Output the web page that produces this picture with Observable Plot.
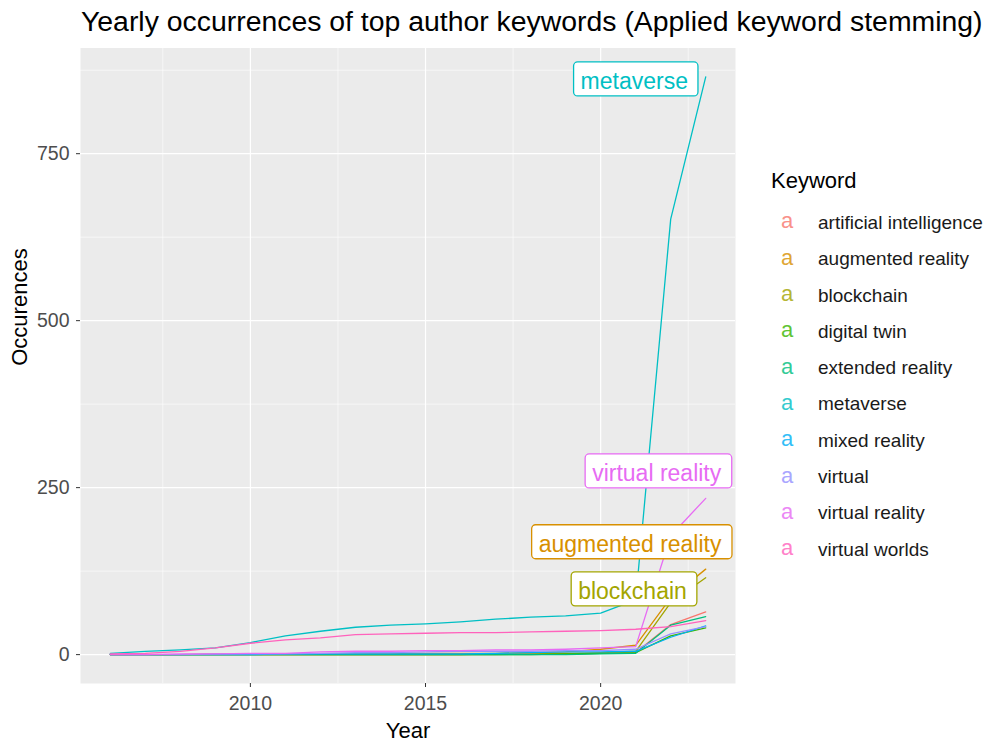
<!DOCTYPE html>
<html>
<head>
<meta charset="utf-8">
<script src="https://cdn.jsdelivr.net/npm/d3@7"></script>
<script src="https://cdn.jsdelivr.net/npm/@observablehq/plot@0.6"></script>
<style>
  html, body { margin: 0; padding: 0; background: white; }
  #wrap { position: relative; width: 991px; height: 745px; font-family: "Liberation Sans", Arial, sans-serif; }
  #title { height: 46px; position: relative; }
  #title span { position: absolute; left: 81px; top: 7px; font-size: 28.4px; line-height: 1; color: #000; white-space: nowrap; }
  #legend { position: absolute; left: 0; top: 0; }
  .lg { position: absolute; line-height: 1; white-space: nowrap; }
</style>
</head>
<body>
<div id="wrap">
  <div id="title"><span>Yearly occurrences of top author keywords (Applied keyword stemming)</span></div>
  <div id="chart"></div>
  <div id="legend"></div>
</div>
<script>
// ---- data ----
const years = [2006, 2007, 2008, 2009, 2010, 2011, 2012, 2013, 2014, 2015, 2016, 2017, 2018, 2019, 2020, 2021, 2022, 2023];
const keywords = ["artificial intelligence", "augmented reality", "blockchain", "digital twin", "extended reality", "metaverse", "mixed reality", "virtual", "virtual reality", "virtual worlds"];
const palette = ["#F8766D", "#D89000", "#A3A500", "#39B600", "#00BF7D", "#00BFC4", "#00B0F6", "#9590FF", "#E76BF3", "#FF62BC"];

const artificialIntelligence = [0, 0, 0, 0, 0, 0, 0, 0, 0, 0, 0, 0, 1, 1, 2, 3, 45, 64];
const augmentedReality       = [0, 0, 0, 1, 1, 1, 1, 1, 2, 2, 2, 2, 3, 4, 8, 14, 85, 128];
const blockchain             = [0, 0, 0, 0, 0, 0, 0, 0, 0, 0, 0, 1, 1, 2, 3, 5, 78, 115];
const digitalTwin            = [0, 0, 0, 0, 0, 0, 0, 0, 0, 0, 0, 0, 0, 1, 2, 3, 28, 40];
const extendedReality        = [0, 0, 0, 0, 0, 0, 0, 0, 0, 0, 0, 0, 0, 0, 1, 2, 44, 57];
const metaverse              = [2, 5, 7, 10, 18, 28, 35, 41, 44, 46, 49, 53, 56, 58, 62, 82, 652, 865];
const mixedReality           = [0, 0, 0, 0, 0, 1, 1, 1, 1, 1, 1, 2, 3, 4, 4, 5, 26, 43];
const virtualKw              = [0, 0, 0, 1, 1, 1, 2, 3, 3, 4, 5, 5, 5, 6, 6, 8, 31, 42];
const virtualReality         = [0, 0, 1, 1, 2, 2, 4, 5, 5, 6, 6, 7, 7, 8, 10, 12, 178, 234];
const virtualWorlds          = [1, 2, 5, 10, 17, 22, 25, 30, 31, 32, 33, 33, 34, 35, 36, 38, 42, 51];

const seriesValues = [artificialIntelligence, augmentedReality, blockchain, digitalTwin, extendedReality, metaverse, mixedReality, virtualKw, virtualReality, virtualWorlds];

// repelled label anchors (data units)
const labelKeywords = ["metaverse", "virtual reality", "augmented reality", "blockchain"];
const labelYears    = [2020.96, 2021.6, 2020.84, 2020.91];
const labelValues   = [858, 271, 165, 94.5];

// axis ticks
const xTicks = [2010, 2015, 2020];
const xMinor = [2007.5, 2012.5, 2017.5, 2022.5];
const yTicks = [0, 250, 500, 750];
const yMinor = [125, 375, 625, 875];

// ---- build tables ----
const rows = keywords.flatMap((k, i) => years.map((yr, j) => ({keyword: k, year: yr, value: seriesValues[i][j]})));
const labels = labelKeywords.map((k, i) => ({keyword: k, year: labelYears[i], value: labelValues[i]}));

// ggplot-like expansion (5%)
const xMin = d3.min(years), xMax = d3.max(years);
const yMin = d3.min(rows, d => d.value), yMax = d3.max(rows, d => d.value);
const xPad = (xMax - xMin) * 0.05, yPad = (yMax - yMin) * 0.05;

const chart = Plot.plot({
  width: 991,
  height: 699,
  marginLeft: 80,
  marginRight: 256,
  marginTop: 1.5,
  marginBottom: 62,
  style: {fontFamily: "'Liberation Sans', Arial, sans-serif", background: "white", overflow: "visible"},
  x: {domain: [xMin - xPad, xMax + xPad]},
  y: {domain: [yMin - yPad, yMax + yPad]},
  color: {domain: keywords, range: palette},
  marks: [
    Plot.frame({fill: "#EBEBEB", stroke: "none"}),
    Plot.ruleX(xMinor, {stroke: "white", strokeWidth: 0.6}),
    Plot.ruleY(yMinor, {stroke: "white", strokeWidth: 0.6}),
    Plot.ruleX(xTicks, {stroke: "white", strokeWidth: 1.2}),
    Plot.ruleY(yTicks, {stroke: "white", strokeWidth: 1.2}),
    Plot.axisX(xTicks, {tickFormat: d => String(d), tickSize: 4, tickPadding: 9, fontSize: 19.5, fill: "#4D4D4D", stroke: "#333333", label: null}),
    Plot.axisY(yTicks, {tickFormat: d => String(d), tickSize: 4, tickPadding: 7, fontSize: 19.5, fill: "#4D4D4D", stroke: "#333333", label: null}),
    Plot.line(rows, {x: "year", y: "value", z: "keyword", stroke: "keyword", strokeWidth: 1.3}),
    Plot.text(labels, {x: "year", y: "value", text: "keyword", fill: "keyword", fontSize: 23, lineAnchor: "middle", textAnchor: "middle"}),
    Plot.text(["Year"], {frameAnchor: "bottom", lineAnchor: "bottom", dy: 54, fontSize: 22, fill: "black"}),
    Plot.text(["Occurences"], {frameAnchor: "left", lineAnchor: "middle", rotate: -90, dx: -61, fontSize: 22, fill: "black"})
  ]
});
document.getElementById("chart").appendChild(chart);

// label boxes (ggrepel style) drawn behind the label texts
chart.querySelectorAll("text").forEach(t => {
  if (!labelKeywords.includes(t.textContent) || t.closest('g[aria-label$="axis"]')) return;
  const col = t.getAttribute("fill");
  if (!col || col === "black") return;
  const bb = t.getBBox();
  const r = document.createElementNS("http://www.w3.org/2000/svg", "rect");
  r.setAttribute("x", bb.x - 7);
  r.setAttribute("y", bb.y - 6);
  r.setAttribute("width", bb.width + 17);
  r.setAttribute("height", bb.height + 8);
  r.setAttribute("rx", 4);
  r.setAttribute("fill", "white");
  r.setAttribute("stroke", col);
  r.setAttribute("stroke-width", 1.3);
  if (t.getAttribute("transform")) r.setAttribute("transform", t.getAttribute("transform"));
  t.parentNode.insertBefore(r, t);
});

// legend
const lg = document.getElementById("legend");
const addDiv = (txt, left, top, size, color) => {
  const d = document.createElement("div");
  d.className = "lg";
  d.textContent = txt;
  d.style.left = left + "px";
  d.style.top = top + "px";
  d.style.fontSize = size + "px";
  d.style.color = color;
  lg.appendChild(d);
  return d;
};
addDiv("Keyword", 771, 169.7, 22, "#000");
keywords.forEach((k, i) => {
  const base = 229 + 36.3 * i;
  const a = addDiv("a", 781, base - 18.6, 22, palette[i]);
  a.style.opacity = 0.8;
  addDiv(k, 818, base - 16.1, 19, "#1A1A1A");
});
</script>
</body>
</html>
